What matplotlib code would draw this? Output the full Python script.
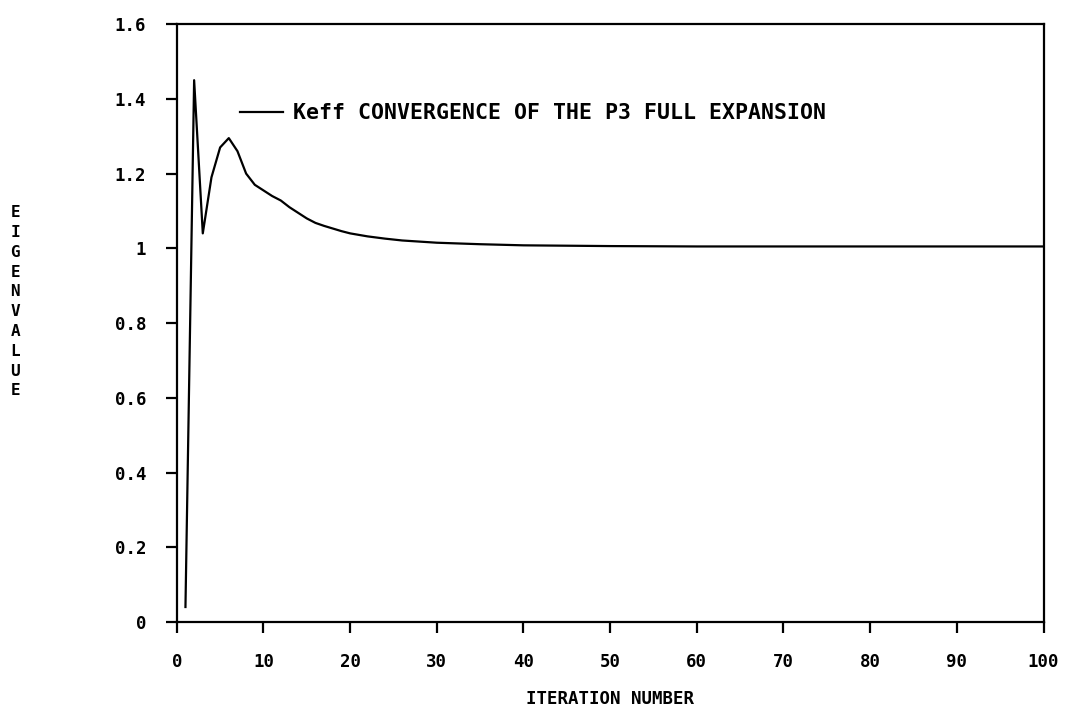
import matplotlib.pyplot as plt
import numpy as np

# k-eff estimate per outer iteration, P3 full expansion
iterations = [1, 2, 3, 4, 5, 6, 7, 8, 9, 10, 11, 12, 13, 14, 15, 16, 17, 18, 19, 20,
              22, 24, 26, 28, 30, 35, 40, 50, 60, 70, 80, 90, 100]
keff = [0.04, 1.45, 1.04, 1.19, 1.27, 1.295, 1.26, 1.20, 1.17, 1.155, 1.14, 1.128,
        1.11, 1.095, 1.08, 1.068, 1.06, 1.053, 1.046, 1.04, 1.032, 1.026, 1.021,
        1.018, 1.015, 1.011, 1.008, 1.006, 1.005, 1.005, 1.005, 1.005, 1.005]

x_ticks = [0, 10, 20, 30, 40, 50, 60, 70, 80, 90, 100]
y_ticks = [0, 0.2, 0.4, 0.6, 0.8, 1, 1.2, 1.4, 1.6]
y_labels = ["0", "0.2", "0.4", "0.6", "0.8", "1", "1.2", "1.4", "1.6"]

plt.rcParams['font.family'] = 'DejaVu Sans Mono'
plt.rcParams['font.weight'] = 'bold'

fig = plt.figure(figsize=(10.78, 7.1), dpi=100)
ax = fig.add_axes([0.164, 0.124, 0.804, 0.842])

ax.plot(iterations, keff, color='black', lw=1.6,
        label="Keff CONVERGENCE OF THE P3 FULL EXPANSION")

ax.set_xlim(0, 100)
ax.set_ylim(0, 1.6)
ax.set_xticks(x_ticks)
ax.set_xticklabels([str(t) for t in x_ticks])
ax.set_yticks(y_ticks)
ax.set_yticklabels(y_labels)
ax.tick_params(direction='out', length=8, width=1.6, labelsize=12.5, pad=14)
for s in ax.spines.values():
    s.set_linewidth(1.6)

ax.set_xlabel("ITERATION NUMBER", fontsize=12.5, fontweight='bold', labelpad=14)
fig.text(0.014, 0.575, "\n".join("EIGENVALUE"), fontsize=11.5, fontweight='bold',
         ha='center', va='center', linespacing=1.4)

ax.legend(loc='upper left', bbox_to_anchor=(0.05, 0.9), frameon=False,
          fontsize=15.5, handlelength=2.0, handletextpad=0.5)

fig.savefig("out.png", dpi=100)
